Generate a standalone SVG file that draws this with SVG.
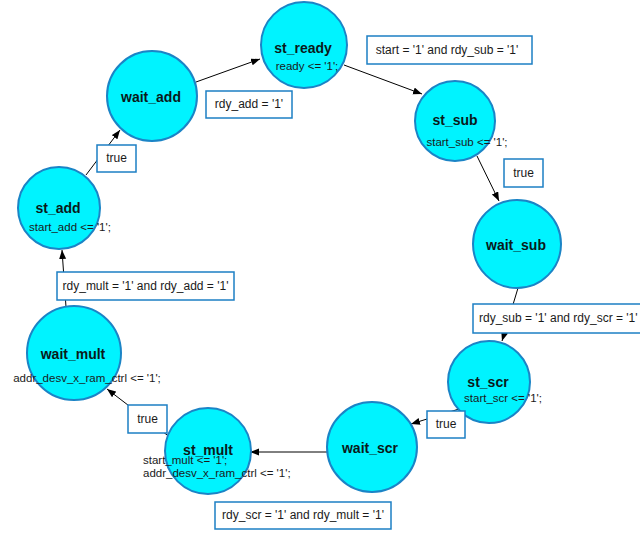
<svg xmlns="http://www.w3.org/2000/svg" width="640" height="533" viewBox="0 0 640 533">
  <style>
    .state { fill: #00f3ff; stroke: #1b84c6; stroke-width: 2; }
    .name { font-family: "Liberation Sans", Arial, sans-serif; font-size: 14px; font-weight: bold; fill: #0a1a1a; text-anchor: middle; }
    .act { font-family: "Liberation Sans", Arial, sans-serif; font-size: 11.5px; fill: #1a1a1a; }
    .mid { text-anchor: middle; }
    .edge { fill: none; stroke: #000; stroke-width: 1; marker-end: url(#arrow); }
    .cond { fill: #fff; stroke: #1c7fc4; stroke-width: 1.5; }
    .ctext { font-family: "Liberation Sans", Arial, sans-serif; font-size: 12px; fill: #1a1a1a; }
  </style>
  <defs>
    <marker id="arrow" markerUnits="userSpaceOnUse" markerWidth="10" markerHeight="8" refX="9" refY="3.5" orient="auto">
      <path d="M0,0 L9,3.5 L0,7 z" fill="#000"/>
    </marker>
  </defs>
  <rect width="640" height="533" fill="#fff"/>

  <!-- transitions -->
  <g id="connectors">
    <line class="edge" x1="196" y1="82" x2="260" y2="59"/>
    <line class="edge" x1="344" y1="65" x2="422" y2="94"/>
    <line class="edge" x1="477" y1="156" x2="499" y2="201"/>
    <line class="edge" x1="518" y1="288" x2="502" y2="341"/>
    <line class="edge" x1="459" y1="409" x2="411" y2="424"/>
    <line class="edge" x1="328" y1="452" x2="250" y2="452"/>
    <line class="edge" x1="171" y1="438" x2="107" y2="389"/>
    <line class="edge" x1="66" y1="307" x2="62" y2="250"/>
    <line class="edge" x1="86" y1="175" x2="120" y2="130"/>
  </g>

  <g id="st_ready">
    <circle class="state" cx="304" cy="45" r="43"/>
    <text class="name" x="303" y="53">st_ready</text>
    <text class="act mid" x="307" y="70">ready &lt;= '1';</text>
  </g>
  <g id="wait_add">
    <circle class="state" cx="152" cy="96" r="45"/>
    <text class="name" x="151" y="102">wait_add</text>
  </g>
  <g id="st_sub">
    <circle class="state" cx="455" cy="121" r="40"/>
    <text class="name" x="455" y="125">st_sub</text>
    <text class="act mid" x="467" y="146">start_sub &lt;= '1';</text>
  </g>
  <g id="wait_sub">
    <circle class="state" cx="517" cy="244" r="44"/>
    <text class="name" x="516" y="250">wait_sub</text>
  </g>
  <g id="st_scr">
    <circle class="state" cx="489" cy="382" r="41"/>
    <text class="name" x="488" y="387">st_scr</text>
    <text class="act mid" x="503" y="402">start_scr &lt;= '1';</text>
  </g>
  <g id="wait_scr">
    <circle class="state" cx="372" cy="447" r="45"/>
    <text class="name" x="370" y="453">wait_scr</text>
  </g>
  <g id="st_mult">
    <circle class="state" cx="208" cy="451" r="43"/>
    <text class="name" x="208" y="455">st_mult</text>
    <text class="act" x="143" y="464">start_mult &lt;= '1';</text>
    <text class="act" x="143" y="477">addr_desv_x_ram_ctrl &lt;= '1';</text>
  </g>
  <g id="wait_mult">
    <circle class="state" cx="74" cy="353" r="47"/>
    <text class="name" x="73" y="359">wait_mult</text>
    <text class="act mid" x="87" y="382">addr_desv_x_ram_ctrl &lt;= '1';</text>
  </g>
  <g id="st_add">
    <circle class="state" cx="59" cy="208" r="41"/>
    <text class="name" x="58" y="213">st_add</text>
    <text class="act mid" x="70" y="231">start_add &lt;= '1';</text>
  </g>

  <!-- transition conditions -->
  <g id="conditions">
    <rect class="cond" x="367" y="36" width="165" height="28"/>
    <text class="ctext" x="447" y="54" text-anchor="middle">start = '1' and rdy_sub = '1'</text>
    <rect class="cond" x="206" y="91" width="86" height="27"/>
    <text class="ctext" x="249" y="108" text-anchor="middle">rdy_add = '1'</text>
    <rect class="cond" x="504" y="159" width="39" height="28"/>
    <text class="ctext" x="523.5" y="177" text-anchor="middle">true</text>
    <rect class="cond" x="473" y="304" width="172" height="29"/>
    <text class="ctext" x="479" y="322">rdy_sub = '1' and rdy_scr = '1'</text>
    <rect class="cond" x="427" y="411" width="38" height="27"/>
    <text class="ctext" x="446" y="428" text-anchor="middle">true</text>
    <rect class="cond" x="215" y="502" width="176" height="27"/>
    <text class="ctext" x="303" y="519" text-anchor="middle">rdy_scr = '1' and rdy_mult = '1'</text>
    <rect class="cond" x="128" y="405" width="39" height="28"/>
    <text class="ctext" x="147.5" y="423" text-anchor="middle">true</text>
    <rect class="cond" x="57" y="272" width="177" height="28"/>
    <text class="ctext" x="145.5" y="290" text-anchor="middle">rdy_mult = '1' and rdy_add = '1'</text>
    <rect class="cond" x="97" y="145" width="39" height="27"/>
    <text class="ctext" x="116.5" y="162" text-anchor="middle">true</text>
  </g>
</svg>
